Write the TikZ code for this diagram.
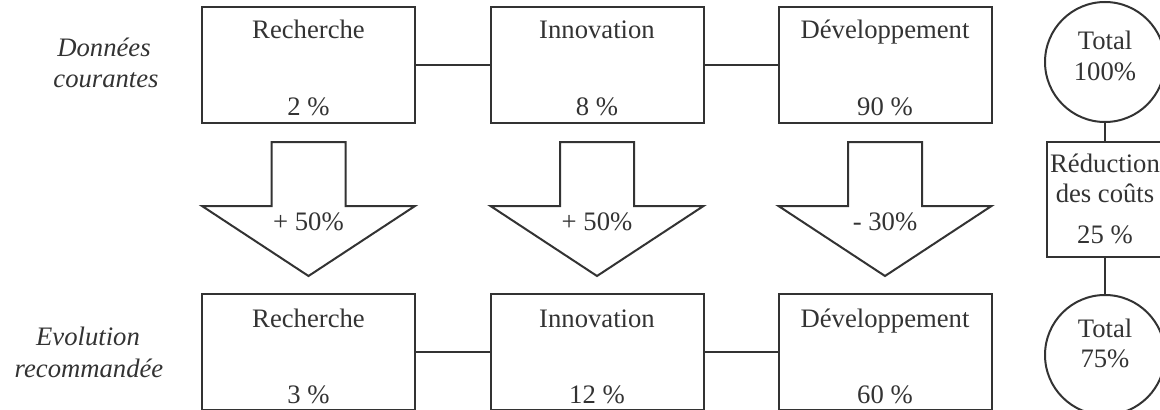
\documentclass[tikz,border=0pt]{standalone}
\usepackage{fontspec}
\setmainfont{Liberation Serif}
\definecolor{ink}{HTML}{333333}
\tikzstyle{box}=[shape=rectangle,draw=ink,line width=1.5pt,minimum width=159.75pt,minimum height=87pt,inner sep=0pt]
\tikzstyle{total}=[shape=circle,draw=ink,line width=1.5pt,minimum size=90pt,inner sep=0pt]
\tikzstyle{cut}=[shape=rectangle,draw=ink,line width=1.5pt,minimum width=87pt,minimum height=86.25pt,inner sep=0pt]
\tikzstyle{txt}=[anchor=base,inner sep=0pt,text=ink,font=\fontsize{20}{24}\selectfont]
\tikzstyle{side}=[txt,font=\fontsize{20}{24}\selectfont\itshape]
\tikzstyle{link}=[draw=ink,line width=1.5pt]
\tikzstyle{bigarrow}=[draw=ink,line width=1.5pt,line join=miter]

\begin{document}
\begin{tikzpicture}[x=0.75pt,y=-0.75pt]
\useasboundingbox (0,0) rectangle (1160,410);
% row labels
\node[side] (cur1) at (104,57) {Données};
\node[side] (cur2) at (106,88) {courantes};
\node[side] (evo1) at (88,345) {Evolution};
\node[side] (evo2) at (89,377) {recommandée};
% current data
\node[box] (rech_1) at (308.5,65) {};
\node[box] (inno_1) at (597,65) {};
\node[box] (dev_1)  at (885,65) {};
\node[txt] at (308.5,39) {Recherche};
\node[txt] at (308.5,115) {2 \%};
\node[txt] at (597,39) {Innovation};
\node[txt] at (597,115) {8 \%};
\node[txt] at (885,39) {Développement};
\node[txt] at (885,115) {90 \%};
\draw[link] (rech_1) -- (inno_1);
\draw[link] (inno_1) -- (dev_1);
% arrows
\draw[bigarrow] (271.5,142) -- (345.5,142) -- (345.5,206) -- (415,206) -- (308.5,276) -- (202,206) -- (271.5,206) -- cycle;
\draw[bigarrow] (560,142) -- (634,142) -- (634,206) -- (703.5,206) -- (597,276) -- (490.5,206) -- (560,206) -- cycle;
\draw[bigarrow] (848,142) -- (922,142) -- (922,206) -- (991.5,206) -- (885,276) -- (778.5,206) -- (848,206) -- cycle;
\node[txt] (a1) at (308.5,230) {+ 50\%};
\node[txt] (a2) at (597,230) {+ 50\%};
\node[txt] (a3) at (885,230) {- 30\%};
% recommended
\node[box] (rech_2) at (308.5,352) {};
\node[box] (inno_2) at (597,352) {};
\node[box] (dev_2)  at (885,352) {};
\node[txt] at (308.5,327) {Recherche};
\node[txt] at (308.5,403) {3 \%};
\node[txt] at (597,327) {Innovation};
\node[txt] at (597,403) {12 \%};
\node[txt] at (885,327) {Développement};
\node[txt] at (885,403) {60 \%};
\draw[link] (rech_2) -- (inno_2);
\draw[link] (inno_2) -- (dev_2);
% totals
\node[total] (tot_1) at (1105,62) {};
\node[cut]   (red)   at (1105,199.5) {};
\node[total] (tot_2) at (1105,355) {};
\draw[link] (tot_1) -- (red);
\draw[link] (red) -- (tot_2);
\node[txt] at (1105,50) {Total};
\node[txt] at (1105,80) {100\%};
\node[txt] at (1105,172) {Réduction};
\node[txt] at (1105,202) {des coûts};
\node[txt] at (1105,243) {25 \%};
\node[txt] at (1105,337) {Total};
\node[txt] at (1105,367) {75\%};
\end{tikzpicture}
\end{document}
